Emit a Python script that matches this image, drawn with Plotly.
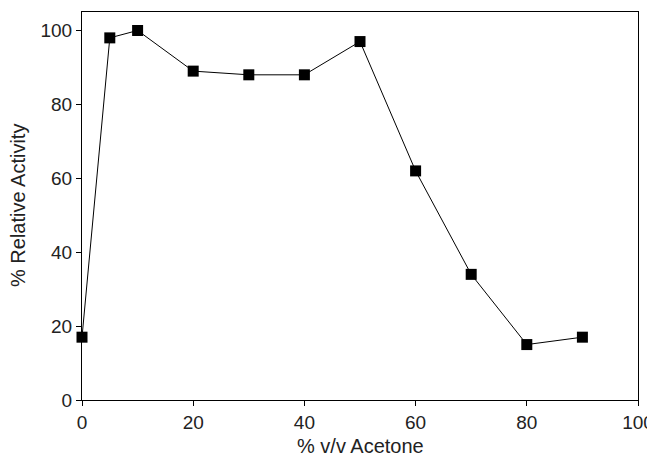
import plotly.graph_objects as go

acetone = [0, 5, 10, 20, 30, 40, 50, 60, 70, 80, 90]
activity = [17, 98, 100, 89, 88, 88, 97, 62, 34, 15, 17]
x_ticks = [0, 20, 40, 60, 80, 100]
y_ticks = [0, 20, 40, 60, 80, 100]
x_title = "% v/v Acetone"
y_title = "% Relative Activity"

fig = go.Figure()
fig.add_trace(go.Scatter(
    x=acetone, y=activity, mode="lines+markers",
    line=dict(color="black", width=1),
    marker=dict(symbol="square", size=11, color="black"),
    cliponaxis=False, showlegend=False,
))

# page body adds an 8px margin, so the figure is sized/offset to compensate
font = dict(family="Liberation Sans, Arial, sans-serif", color="#222", size=19)
fig.update_layout(
    width=647, height=450,
    margin=dict(l=74, r=17, t=4, b=58),
    paper_bgcolor="white", plot_bgcolor="white",
    font=font,
)
fig.update_xaxes(
    range=[0, 100], tickvals=x_ticks, ticks="outside", ticklen=5,
    tickcolor="black", linecolor="black", linewidth=1, mirror=True,
    showgrid=False, zeroline=False, automargin=False,
)
fig.update_yaxes(
    range=[0, 105], tickvals=y_ticks, ticks="outside", ticklen=5,
    tickcolor="black", linecolor="black", linewidth=1, mirror=True,
    showgrid=False, zeroline=False, automargin=False,
)
fig.add_annotation(text=x_title, xref="paper", yref="paper", x=0.5, y=0,
                   xanchor="center", yanchor="middle", yshift=-46,
                   showarrow=False, font=dict(size=20))
fig.add_annotation(text=y_title, xref="paper", yref="paper", x=0, y=0.5,
                   xanchor="center", yanchor="middle", xshift=-64,
                   textangle=-90, showarrow=False, font=dict(size=20))
fig.write_html("out.html")
